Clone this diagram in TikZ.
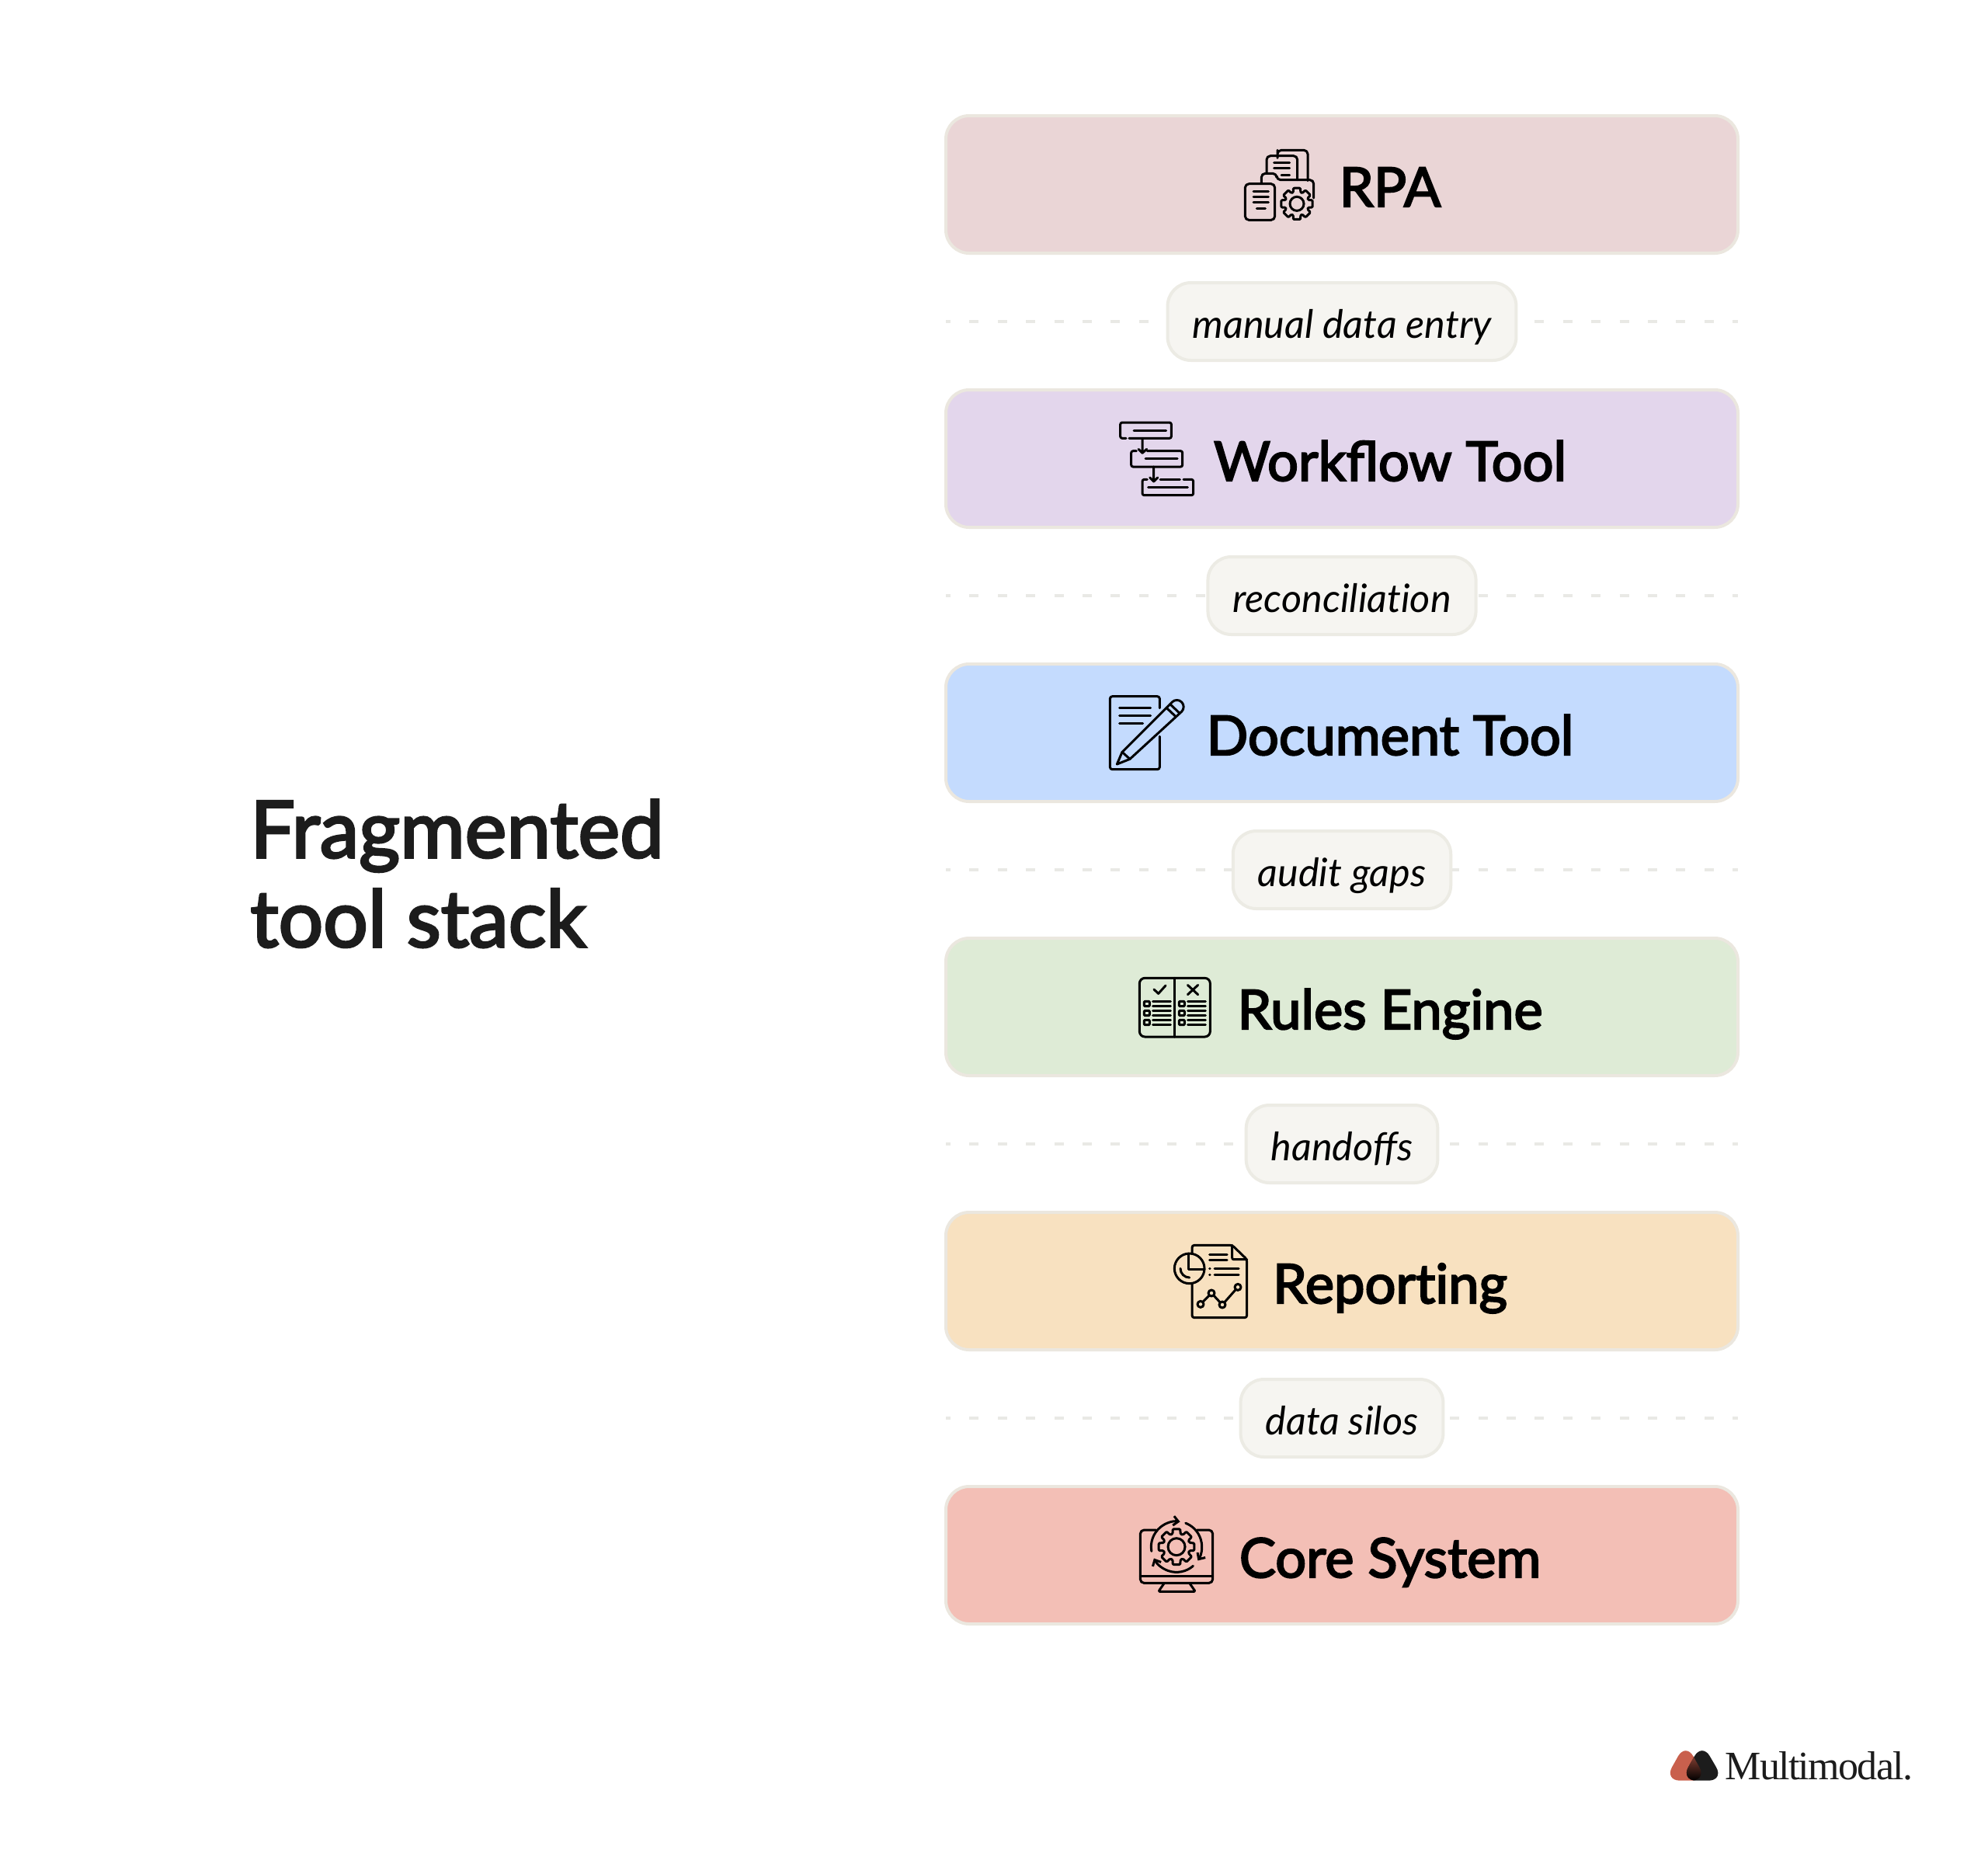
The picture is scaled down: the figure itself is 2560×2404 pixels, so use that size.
\documentclass[tikz,border=0pt]{standalone}
\usepackage{fontspec}
\setmainfont{Lato}
\newfontfamily\headfont[FakeBold=3]{Lato}
\newfontfamily\logofont[LetterSpace=-3.2]{Liberation Serif}
\usepackage{xcolor}
\definecolor{rpafill}{HTML}{EAD5D6}
\definecolor{workflowfill}{HTML}{E3D6EC}
\definecolor{documentfill}{HTML}{C4DBFE}
\definecolor{rulesfill}{HTML}{DEEBD6}
\definecolor{reportingfill}{HTML}{F8E1C0}
\definecolor{corefill}{HTML}{F3BFB6}
\definecolor{boxedge}{HTML}{EBE7DF}
\definecolor{pillfill}{HTML}{F6F5F1}
\definecolor{pilledge}{HTML}{ECEBE4}
\definecolor{gapgrey}{HTML}{E9E9E5}
\definecolor{inkblack}{HTML}{1C1C1C}
\definecolor{logored}{HTML}{C9604D}
\usetikzlibrary{positioning, backgrounds, arrows.meta}
\newcommand{\gearshape}[6]{%
  \begin{scope}[shift={(#1,#2)}]
    \draw[rounded corners=.6pt] (0-#6:#4) \foreach \a in {0,45,...,315} {
      -- (\a-#6:#4) -- (\a-#6+5:#3) -- (\a+#6-5:#3) -- (\a+#6:#4)} -- cycle;
    \draw (0,0) circle (#5);
  \end{scope}}

\begin{document}
\begin{tikzpicture}[x=.5pt, y=-.5pt,
        toolbox/.style={rectangle, draw=boxedge, line width=2pt, rounded corners=15pt, minimum width=510pt, minimum height=88.5pt, outer sep=0pt, inner sep=0pt},
        gappill/.style={rectangle, draw=pilledge, fill=pillfill, line width=2pt, rounded corners=15pt, minimum height=50pt, inner xsep=16pt, inner ysep=0pt, outer sep=0pt, text height=25pt, text depth=4pt, font=\fontsize{25.2}{30}\selectfont\itshape, text=black},
        toollabel/.style={inner sep=0pt, xshift=31pt, text height=31pt, text depth=2.4pt, font=\fontsize{35.2}{40}\selectfont\headfont, text=black},
        gapline/.style={draw=gapgrey, line width=2pt, dash pattern=on 6pt off 12.2pt, dash phase=3pt},
        iconbox/.style 2 args={shift={(#1,#2)}, x=.1667pt, y=-.1667pt, line width=1.5pt, line cap=round, line join=round, draw=black, rounded corners=2.5pt}]

    \useasboundingbox (0,0) rectangle (2560,2404);

    \node [align=left, anchor=north west, inner sep=0pt, text=inkblack, font=\fontsize{50.8}{57.5}\selectfont\headfont] (title) at (322,1029) {Fragmented\\tool stack};

    \node [toolbox, fill=rpafill] (rpa) at (1728,237.5) {};
    \node [gappill, below=19pt of rpa] (gap1) {manual data entry};
    \node [toolbox, fill=workflowfill, below=19pt of gap1] (workflow) {};
    \node [gappill, below=19pt of workflow] (gap2) {reconciliat\kern0pt ion};
    \node [toolbox, fill=documentfill, below=19pt of gap2] (document) {};
    \node [gappill, below=19pt of document] (gap3) {audit gaps};
    \node [toolbox, fill=rulesfill, below=19pt of gap3] (rules) {};
    \node [gappill, below=19pt of rules] (gap4) {handoffs};
    \node [toolbox, fill=reportingfill, below=19pt of gap4] (reporting) {};
    \node [gappill, below=19pt of reporting] (gap5) {data silos};
    \node [toolbox, fill=corefill, below=19pt of gap5] (core) {};

    \node [toollabel] (rpalabel) at (rpa) {RPA};
    \node [toollabel] (workflowlabel) at (workflow) {Workflow Tool};
    \node [toollabel] (documentlabel) at (document) {Document Tool};
    \node [toollabel] (ruleslabel) at (rules) {Rules Engine};
    \node [toollabel] (reportinglabel) at (reporting) {Report\kern0pt ing};
    \node [toollabel] (corelabel) at (core) {Core System};

    \begin{scope}[on background layer]
        \foreach \g in {1,...,5} {
            \coordinate (gap\g left) at (rpa.west |- gap\g.center);
            \coordinate (gap\g right) at (rpa.east |- gap\g.center);
            \draw [gapline] (gap\g left) -- (gap\g right);
        }
    \end{scope}

    \begin{scope}[iconbox={1570}{170}]
        \draw (225,88) -- (225,85) -- (225,70) -- (342,70) -- (342,188);
        \draw (183,160) -- (183,92) -- (302,92) -- (302,185);
        \draw (212,118) -- (272,118) (212,140) -- (272,140) (240,165) -- (272,165);
        \draw (163,198) -- (163,160) -- (222,160) -- (222,185) -- (365,185) -- (365,255);
        \draw [fill=rpafill] (100,200) rectangle (215,340);
        \draw (132,228) -- (190,228) (132,250) -- (190,250) (132,272) -- (190,272) (145,296) -- (178,296);
        \fill [rpafill] (300,277) circle (64);
        \gearshape{300}{277}{62}{46}{27}{18}
    \end{scope}

    \begin{scope}[iconbox={1420}{520}, rounded corners=1.2pt]
        \draw (90,133) -- (68,133) -- (68,72) -- (265,72) -- (265,133) -- (102,133);
        \draw (120,102) -- (245,102);
        \draw [rounded corners=0pt] (153,133) -- (153,190) (138,175) -- (153,190) -- (170,175);
        \draw (130,182) -- (110,182) -- (110,243) -- (308,243) -- (308,182) -- (172,182);
        \draw (165,212) -- (288,212);
        \draw [rounded corners=0pt] (197,243) -- (197,300) (182,285) -- (197,300) -- (212,285);
        \draw (172,292) -- (153,292) -- (153,353) -- (350,353) -- (350,292) -- (312,292);
        \draw (222,292) -- (298,292);
        \draw (176,322) -- (328,322);
    \end{scope}

    \begin{scope}[iconbox={1410}{880}, rounded corners=1.5pt]
        \draw (250,95) -- (250,50) -- (58,50) -- (58,332) -- (250,332) -- (250,205);
        \draw (95,95) -- (215,95) (95,125) -- (215,125) (95,153) -- (185,153);
        \draw [rounded corners=0pt] (85,312) -- (105,265) -- (298,72) arc (225:405:26) -- (135,292) -- cycle;
        \draw [rounded corners=0pt] (105,265) -- (135,292) (276,94) -- (312,128) (290,80) -- (326,114);
    \end{scope}

    \begin{scope}[iconbox={1450}{1240}]
        \draw [rounded corners=3.5pt] (52,58) rectangle (325,285);
        \draw (187,58) -- (187,285);
        \draw [rounded corners=0pt] (108,102) -- (125,118) -- (153,87) (238,85) -- (278,122) (278,85) -- (238,122);
        \foreach \ox in {0,135} {
            \foreach \oy in {0,36,72} {
                \draw [rounded corners=.5pt] (70+\ox,148+\oy) rectangle (91+\ox,167+\oy);
                \draw (104+\ox,148+\oy) -- (172+\ox,148+\oy) (104+\ox,166+\oy) -- (172+\ox,166+\oy);
            }
        }
    \end{scope}

    \begin{scope}[iconbox={1490}{1590}, rounded corners=1.5pt]
        \draw (135,68) -- (135,40) -- (290,40) -- (347,95) -- (347,320) -- (135,320) -- (135,190);
        \draw [rounded corners=1pt] (290,40) -- (290,95) -- (347,95);
        \draw (125,130) circle (58);
        \draw [rounded corners=0pt] (122,72) -- (122,132) -- (183,132);
        \draw (90,130) arc (180:90:35);
        \draw (203,75) -- (270,75) (203,97) -- (270,97) (222,130) -- (315,130) (222,153) -- (315,153);
        \draw (203,130) -- (204,130) (203,153) -- (204,153);
        \draw [rounded corners=0pt] (168,268) -- (210,225) -- (252,270) -- (312,202);
        \foreach \px/\py in {168/268, 210/225, 252/270, 312/202} {
            \draw [fill=reportingfill] (\px,\py) circle (12);
        }
    \end{scope}

    \begin{scope}[iconbox={1450}{1940}]
        \draw (115,90) -- (55,90) -- (55,295) -- (335,295) -- (335,90) -- (275,90);
        \draw (55,268) -- (335,268);
        \draw [rounded corners=1pt] (148,295) -- (125,328) -- (268,328) -- (245,295);
        \gearshape{195}{155}{70}{52}{33}{17}
        \begin{scope}[shift={(195,155)}, rounded corners=0pt, -{Straight Barb[length=3.2pt, width=6pt]}]
            \draw (170:98) arc (170:278:98);
            \draw (291:98) arc (291:393:98);
            \draw (49:98) arc (49:153:98);
        \end{scope}
    \end{scope}

    \begin{scope}[shift={(2130,2220)}, x=.1667pt, y=-.1667pt]
        \path [fill=logored, rounded corners=10pt] (122,72) -- (40,218) -- (204,218) -- cycle;
        \path [fill=inkblack, rounded corners=10pt] (185,72) -- (103,218) -- (270,218) -- cycle;
        \begin{scope}
            \clip [rounded corners=10pt] (122,72) -- (40,218) -- (204,218) -- cycle;
            \path [top color=logored, middle color=logored!85!black, bottom color=black, rounded corners=10pt] (185,72) -- (103,218) -- (270,218) -- cycle;
        \end{scope}
    \end{scope}
    \node [anchor=base west, inner sep=0pt, text=inkblack, font=\fontsize{26}{30}\selectfont\logofont] (logotext) at (2221,2291) {Multimodal.};
\end{tikzpicture}
\end{document}
